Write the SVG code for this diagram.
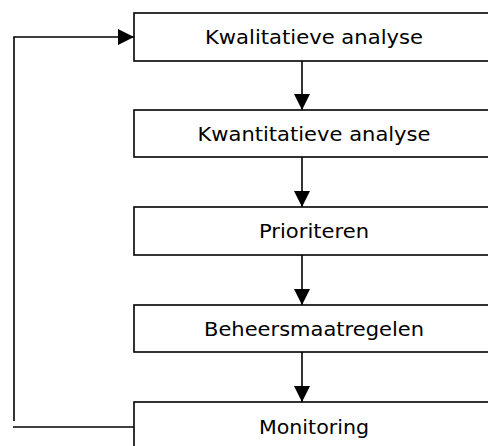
<svg xmlns="http://www.w3.org/2000/svg" width="488" height="446" viewBox="0 0 488 446">
<style>
.box{fill:#fff;stroke:#000;stroke-width:1.6}
.lbl{font-family:"DejaVu Sans",Verdana,sans-serif;font-size:19px;fill:#000;text-anchor:middle}
.edge{fill:none;stroke:#000;stroke-width:1.6}
</style>
<defs>
<marker id="ah" markerWidth="16" markerHeight="16" viewBox="0 0 16 16" refX="16" refY="8" orient="auto" markerUnits="userSpaceOnUse">
<path d="M0,0 L16,8 L0,16 Z" fill="#000"/>
</marker>
</defs>
<g id="n1"><rect class="box" x="134" y="13" width="360" height="48"/><text class="lbl" x="314" y="44" textLength="218" lengthAdjust="spacingAndGlyphs">Kwalitatieve analyse</text></g>
<g id="n2"><rect class="box" x="134" y="110" width="360" height="47"/><text class="lbl" x="314" y="141" textLength="233" lengthAdjust="spacingAndGlyphs">Kwantitatieve analyse</text></g>
<g id="n3"><rect class="box" x="134" y="207" width="360" height="48"/><text class="lbl" x="314" y="238" textLength="110" lengthAdjust="spacingAndGlyphs">Prioriteren</text></g>
<g id="n4"><rect class="box" x="134" y="305" width="360" height="47"/><text class="lbl" x="314" y="336" textLength="220" lengthAdjust="spacingAndGlyphs">Beheersmaatregelen</text></g>
<g id="n5"><rect class="box" x="134" y="402" width="360" height="60"/><text class="lbl" x="314" y="434" textLength="110" lengthAdjust="spacingAndGlyphs">Monitoring</text></g>
<g id="connectors">
<line class="edge" x1="302" y1="61" x2="302" y2="110" marker-end="url(#ah)"/>
<line class="edge" x1="302" y1="157" x2="302" y2="207" marker-end="url(#ah)"/>
<line class="edge" x1="302" y1="255" x2="302" y2="305" marker-end="url(#ah)"/>
<line class="edge" x1="302" y1="352" x2="302" y2="402" marker-end="url(#ah)"/>
<polyline class="edge" points="14,421 14,37 134,37" marker-end="url(#ah)"/>
<line class="edge" x1="13" y1="427" x2="134" y2="427"/>
</g>
</svg>
